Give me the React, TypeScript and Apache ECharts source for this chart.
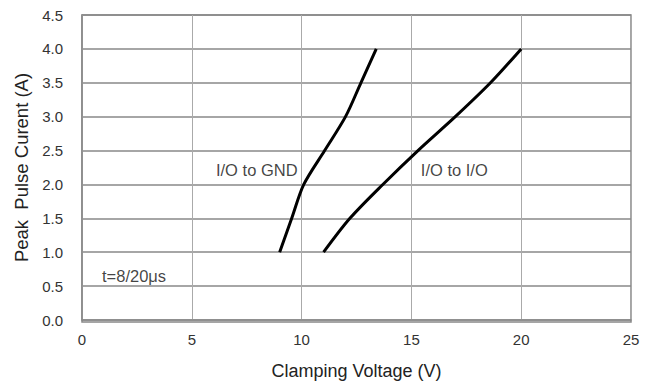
import React, { useEffect, useRef } from "react";
import * as echarts from "echarts";

const ioToGnd: [number, number][] = [
  [9.0, 1.0],
  [9.55, 1.5],
  [10.1, 2.0],
  [11.05, 2.5],
  [12.0, 3.0],
  [12.7, 3.5],
  [13.4, 4.0],
];
const ioToIo: [number, number][] = [
  [11.0, 1.0],
  [12.2, 1.5],
  [13.7, 2.0],
  [15.3, 2.5],
  [17.0, 3.0],
  [18.6, 3.5],
  [20.0, 4.0],
];
const labels: { text: string; coord: [number, number] }[] = [
  { text: "I/O to GND", coord: [6.1, 2.22] },
  { text: "I/O to I/O", coord: [15.43, 2.22] },
  { text: "t=8/20μs", coord: [0.91, 0.65] },
];

export default function App() {
  const ref = useRef<HTMLDivElement>(null);
  useEffect(() => {
    document.body.style.margin = "0";
    if (!ref.current) return;
    const chart = echarts.init(ref.current, undefined, { renderer: "svg" });
    const font = "Liberation Sans, Arial, sans-serif";
    chart.setOption({
      animation: false,
      backgroundColor: "#fff",
      grid: { left: 82, right: 21, top: 15, bottom: 63 },
      xAxis: {
        type: "value",
        min: 0,
        max: 25,
        interval: 5,
        name: "Clamping Voltage (V)",
        nameLocation: "middle",
        nameGap: 42,
        nameTextStyle: { fontFamily: font, fontSize: 18, color: "#222" },
        axisLine: { show: true, lineStyle: { color: "#888", width: 1.5 } },
        axisTick: { show: false },
        axisLabel: { fontFamily: font, fontSize: 15, color: "#333", margin: 12 },
        splitLine: { show: true, lineStyle: { color: "#aaa", width: 1 } },
      },
      yAxis: {
        type: "value",
        min: 0,
        max: 4.5,
        interval: 0.5,
        name: "Peak  Pulse Curent (A)",
        nameLocation: "middle",
        nameGap: 51,
        nameTextStyle: { fontFamily: font, fontSize: 18.5, color: "#222" },
        axisLine: { show: true, lineStyle: { color: "#888", width: 1.5 } },
        axisTick: { show: false },
        axisLabel: {
          fontFamily: font,
          fontSize: 15,
          color: "#333",
          margin: 19,
          formatter: (v: number) => v.toFixed(1),
        },
        splitLine: { show: true, lineStyle: { color: "#888", width: 1.5 } },
      },
      series: [
        {
          type: "line",
          data: ioToGnd,
          smooth: 0.3,
          showSymbol: false,
          lineStyle: { color: "#000", width: 3 },
        },
        {
          type: "line",
          data: ioToIo,
          smooth: 0.3,
          showSymbol: false,
          lineStyle: { color: "#000", width: 3 },
        },
        {
          type: "scatter",
          data: labels.map((l) => ({ value: l.coord, name: l.text })),
          symbolSize: 0,
          label: {
            show: true,
            position: "right",
            distance: 0,
            formatter: (p: any) => p.name,
            fontFamily: font,
            fontSize: 16.5,
            color: "#111",
          },
        },
      ],
      graphic: [
        {
          type: "rect",
          shape: { x: 82, y: 15, width: 549, height: 307 },
          style: { fill: "none", stroke: "#888", lineWidth: 1.5 },
          silent: true,
        },
      ],
    });
    return () => chart.dispose();
  }, []);
  return <div ref={ref} style={{ width: 652, height: 385 }} />;
}
